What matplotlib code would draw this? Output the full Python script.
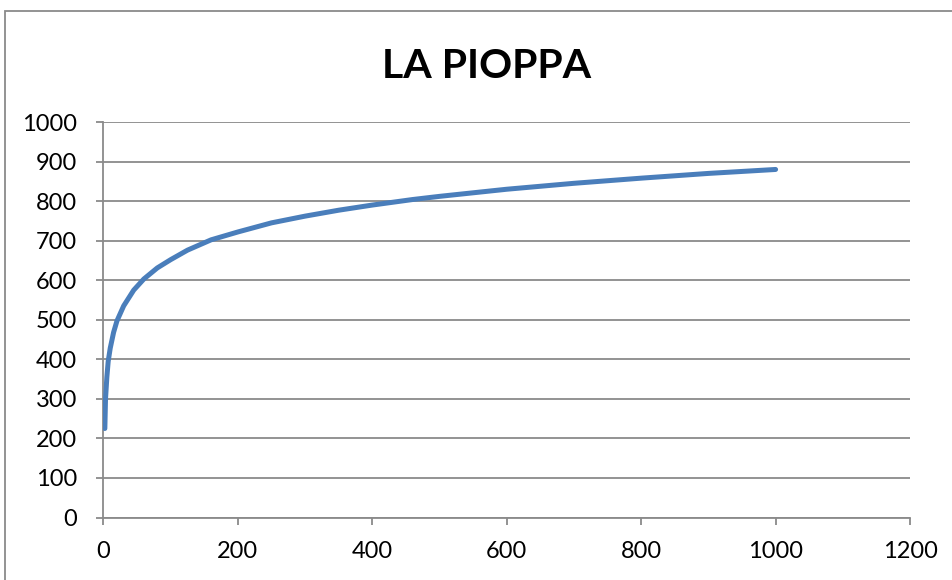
import matplotlib
matplotlib.use("Agg")
import matplotlib.pyplot as plt
from matplotlib.patches import Rectangle

title = "LA PIOPPA"
x_vals = [2, 3, 5, 7, 10, 15, 20, 30, 45, 60, 80, 100, 125, 160, 200, 250, 300,
          350, 400, 460, 500, 600, 700, 800, 900, 1000]
y_vals = [225, 300, 355, 395, 428, 468, 497, 535, 575, 603, 631, 652, 676, 702,
          722, 745, 762, 777, 790, 804, 812, 830, 845, 858, 870, 880]
x_ticks = [0, 200, 400, 600, 800, 1000, 1200]
y_ticks = [0, 100, 200, 300, 400, 500, 600, 700, 800, 900, 1000]

plt.rcParams['font.family'] = ['Lato', 'DejaVu Sans']
W, H = 953, 580
fig = plt.figure(figsize=(W / 100, H / 100), dpi=100)
ax = fig.add_axes([103.5 / W, 1 - 517.5 / H, (910 - 103.5) / W, (517.5 - 122) / H])

grey = '#8a8a8a'
ax.plot(x_vals, y_vals, color='#4A7EBB', lw=3.6, solid_capstyle='round',
        solid_joinstyle='round', zorder=3)

ax.set_xlim(0, 1200)
ax.set_ylim(0, 1000)
ax.set_xticks(x_ticks)
ax.set_yticks(y_ticks)
ax.set_xticklabels([str(v) for v in x_ticks])
ax.set_yticklabels([str(v) for v in y_ticks])
ax.yaxis.grid(True, color=grey, lw=1.3)
ax.xaxis.grid(False)
ax.set_axisbelow(True)
for s in ['top', 'right']:
    ax.spines[s].set_visible(False)
for s in ['left', 'bottom']:
    ax.spines[s].set_color(grey)
    ax.spines[s].set_linewidth(1.3)
ax.tick_params(axis='both', direction='out', length=5, width=1.3, color=grey,
               labelsize=17, labelcolor='black')
ax.tick_params(axis='y', pad=14)
ax.tick_params(axis='x', pad=12)

fig.text(487 / W, 1 - 78 / H, title, ha='center', va='baseline',
         fontsize=29.5, fontweight='bold', color='black')

fig.patches.append(Rectangle((4.5 / W, -0.1), 1.2, (H - 10.5) / H + 0.1,
                             transform=fig.transFigure, fill=False,
                             edgecolor=grey, lw=1.3))

fig.savefig('out.png', dpi=100)
